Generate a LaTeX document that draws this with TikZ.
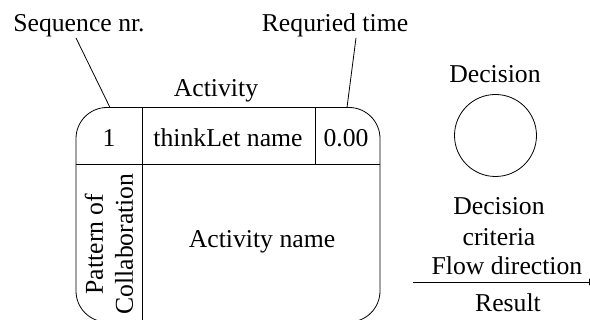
\documentclass[tikz,border=0pt]{standalone}
\usepackage{fontspec}
\setmainfont{Liberation Serif}
\usetikzlibrary{arrows.meta}
\begin{document}
\begin{tikzpicture}[x=1pt,y=-1pt,
  lbl/.style={font=\fontsize{25.7pt}{30pt}\selectfont, inner sep=0pt, anchor=base},
  stroke/.style={line width=0.8pt, black}]
\useasboundingbox (0,0) rectangle (590,320);

% activity card
\draw[stroke, rounded corners=31pt] (76,107.5) rectangle (380,322);
\draw[stroke] (76,164.5) -- (380,164.5);
\draw[stroke] (142,107.5) -- (142,322);
\draw[stroke] (315,107.5) -- (315,164.5);

\node[lbl] (nr) at (109,147) {1};
\node[lbl] (tl) at (228,147) {thinkLet name};
\node[lbl] (tm) at (346,147) {0.00};
\node[lbl] (an) at (262,248) {Activity name};
\node[lbl, anchor=center, rotate=90, align=center] (poc) at (109,244) {Pattern of\\Collaboration};
\node[lbl] (act) at (216,97) {Activity};

% call-outs
\node[lbl] (seq) at (79,32) {Sequence nr.};
\node[lbl] (req) at (335,32) {Requried time};
\coordinate (seqA) at (76,38);
\coordinate (seqB) at (110,107.5);
\coordinate (reqA) at (356,38);
\coordinate (reqB) at (347,107.5);
\draw[stroke] (seqA) -- (seqB);
\draw[stroke] (reqA) -- (reqB);

% decision legend
\node[lbl] (dec) at (495,83) {Decision};
\node[stroke, draw, circle, minimum size=82pt, inner sep=0pt] (circ) at (495.5,135.5) {};

% flow legend
\node[lbl] (dc1) at (499,215) {Decision};
\node[lbl] (dc2) at (499,246) {criteria};
\node[lbl] (fd) at (507,275) {Flow direction};
\node[lbl] (res) at (508,312) {Result};
\coordinate (flA) at (413,282);
\coordinate (flB) at (598,282);
\draw[stroke, -{Latex[length=9pt,width=7pt]}] (flA) -- (flB);
\end{tikzpicture}
\end{document}
